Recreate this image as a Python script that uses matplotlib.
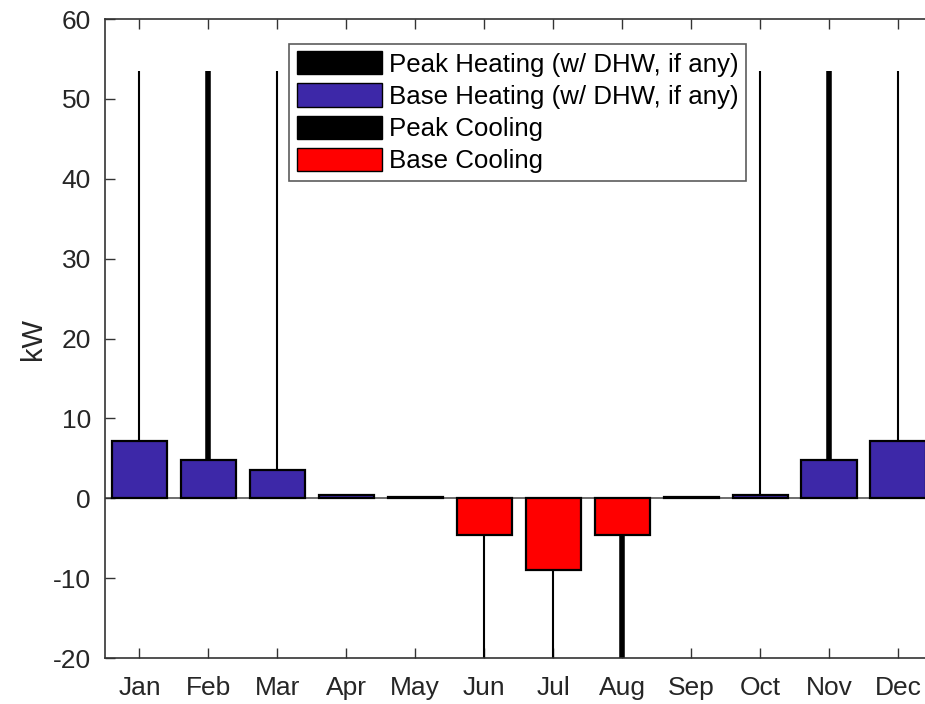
import numpy as np
import matplotlib.pyplot as plt
from matplotlib.patches import Patch

plt.rcParams['font.family'] = ['Liberation Sans', 'DejaVu Sans']
plt.rcParams['axes.unicode_minus'] = False

# === DATA ===
months = ['Jan', 'Feb', 'Mar', 'Apr', 'May', 'Jun',
          'Jul', 'Aug', 'Sep', 'Oct', 'Nov', 'Dec']
base_heating = [7.2, 4.8, 3.5, 0.4, 0.15, 0.0, 0.0, 0.0, 0.15, 0.4, 4.8, 7.2]
peak_heating = [53.5, 53.5, 53.5, 0.0, 0.0, 0.0, 0.0, 0.0, 0.0, 53.5, 53.5, 53.5]
base_cooling = [0.0, 0.0, 0.0, 0.0, 0.0, -4.6, -9.0, -4.6, 0.0, 0.0, 0.0, 0.0]
peak_cooling = [0.0, 0.0, 0.0, 0.0, 0.0, -25.0, -25.0, -25.0, 0.0, 0.0, 0.0, 0.0]

# line weights of the peak stems as drawn
peak_lw = [1.5, 4, 1.5, 1.5, 1.5, 1.5, 1.5, 4, 1.5, 1.5, 4, 1.5]

blue = '#3D28A8'
red = '#FF0000'
txt = '#262626'

x = np.arange(1, len(months) + 1)

fig = plt.figure(figsize=(9.25, 7.04), dpi=100)
ax = fig.add_axes([0.1135, 0.0653, 0.8946, 0.9077])

# peaks first (stems), then base bars on top
ax.vlines(x, 0, peak_heating, colors='black', linewidths=peak_lw, zorder=2)
ax.vlines(x, 0, peak_cooling, colors='black', linewidths=peak_lw, zorder=2)
ax.axhline(0, color='#555555', lw=1.2, zorder=1)

heat = np.array(base_heating)
cool = np.array(base_cooling)
ax.bar(x[heat > 0], heat[heat > 0], width=0.8, color=blue,
       edgecolor='black', linewidth=1.6, zorder=3)
ax.bar(x[cool < 0], cool[cool < 0], width=0.8, color=red,
       edgecolor='black', linewidth=1.6, zorder=3)

ax.set_xlim(0.5, 12.5)
ax.set_ylim(-20, 60)
ax.set_xticks(x)
ax.set_xticklabels(months)
ax.set_yticks(range(-20, 61, 10))
ax.tick_params(axis='both', direction='in', labelsize=19, length=7,
               width=1, color='#333333', labelcolor=txt)
ax.tick_params(axis='x', top=True, pad=13)
ax.tick_params(axis='y', pad=10)
for s in ax.spines.values():
    s.set_color('#333333')
    s.set_linewidth(1.2)

ax.set_ylabel('kW', fontsize=21, labelpad=4, color=txt)

handles = [
    Patch(facecolor='black', edgecolor='black', label='Peak Heating (w/ DHW, if any)'),
    Patch(facecolor=blue, edgecolor='black', label='Base Heating (w/ DHW, if any)'),
    Patch(facecolor='black', edgecolor='black', label='Peak Cooling'),
    Patch(facecolor=red, edgecolor='black', label='Base Cooling'),
]
leg = ax.legend(handles=handles, loc='upper left',
                bbox_to_anchor=(0.2225, 0.9615), fontsize=18.6,
                frameon=True, fancybox=False, edgecolor='#333333',
                handlelength=3.3, handleheight=1.0, handletextpad=0.25,
                labelspacing=0.26, borderpad=0.3, borderaxespad=0)
leg.get_frame().set_linewidth(1.2)
for t in leg.get_texts():
    t.set_color('black')

fig.savefig('out.png', dpi=100)
